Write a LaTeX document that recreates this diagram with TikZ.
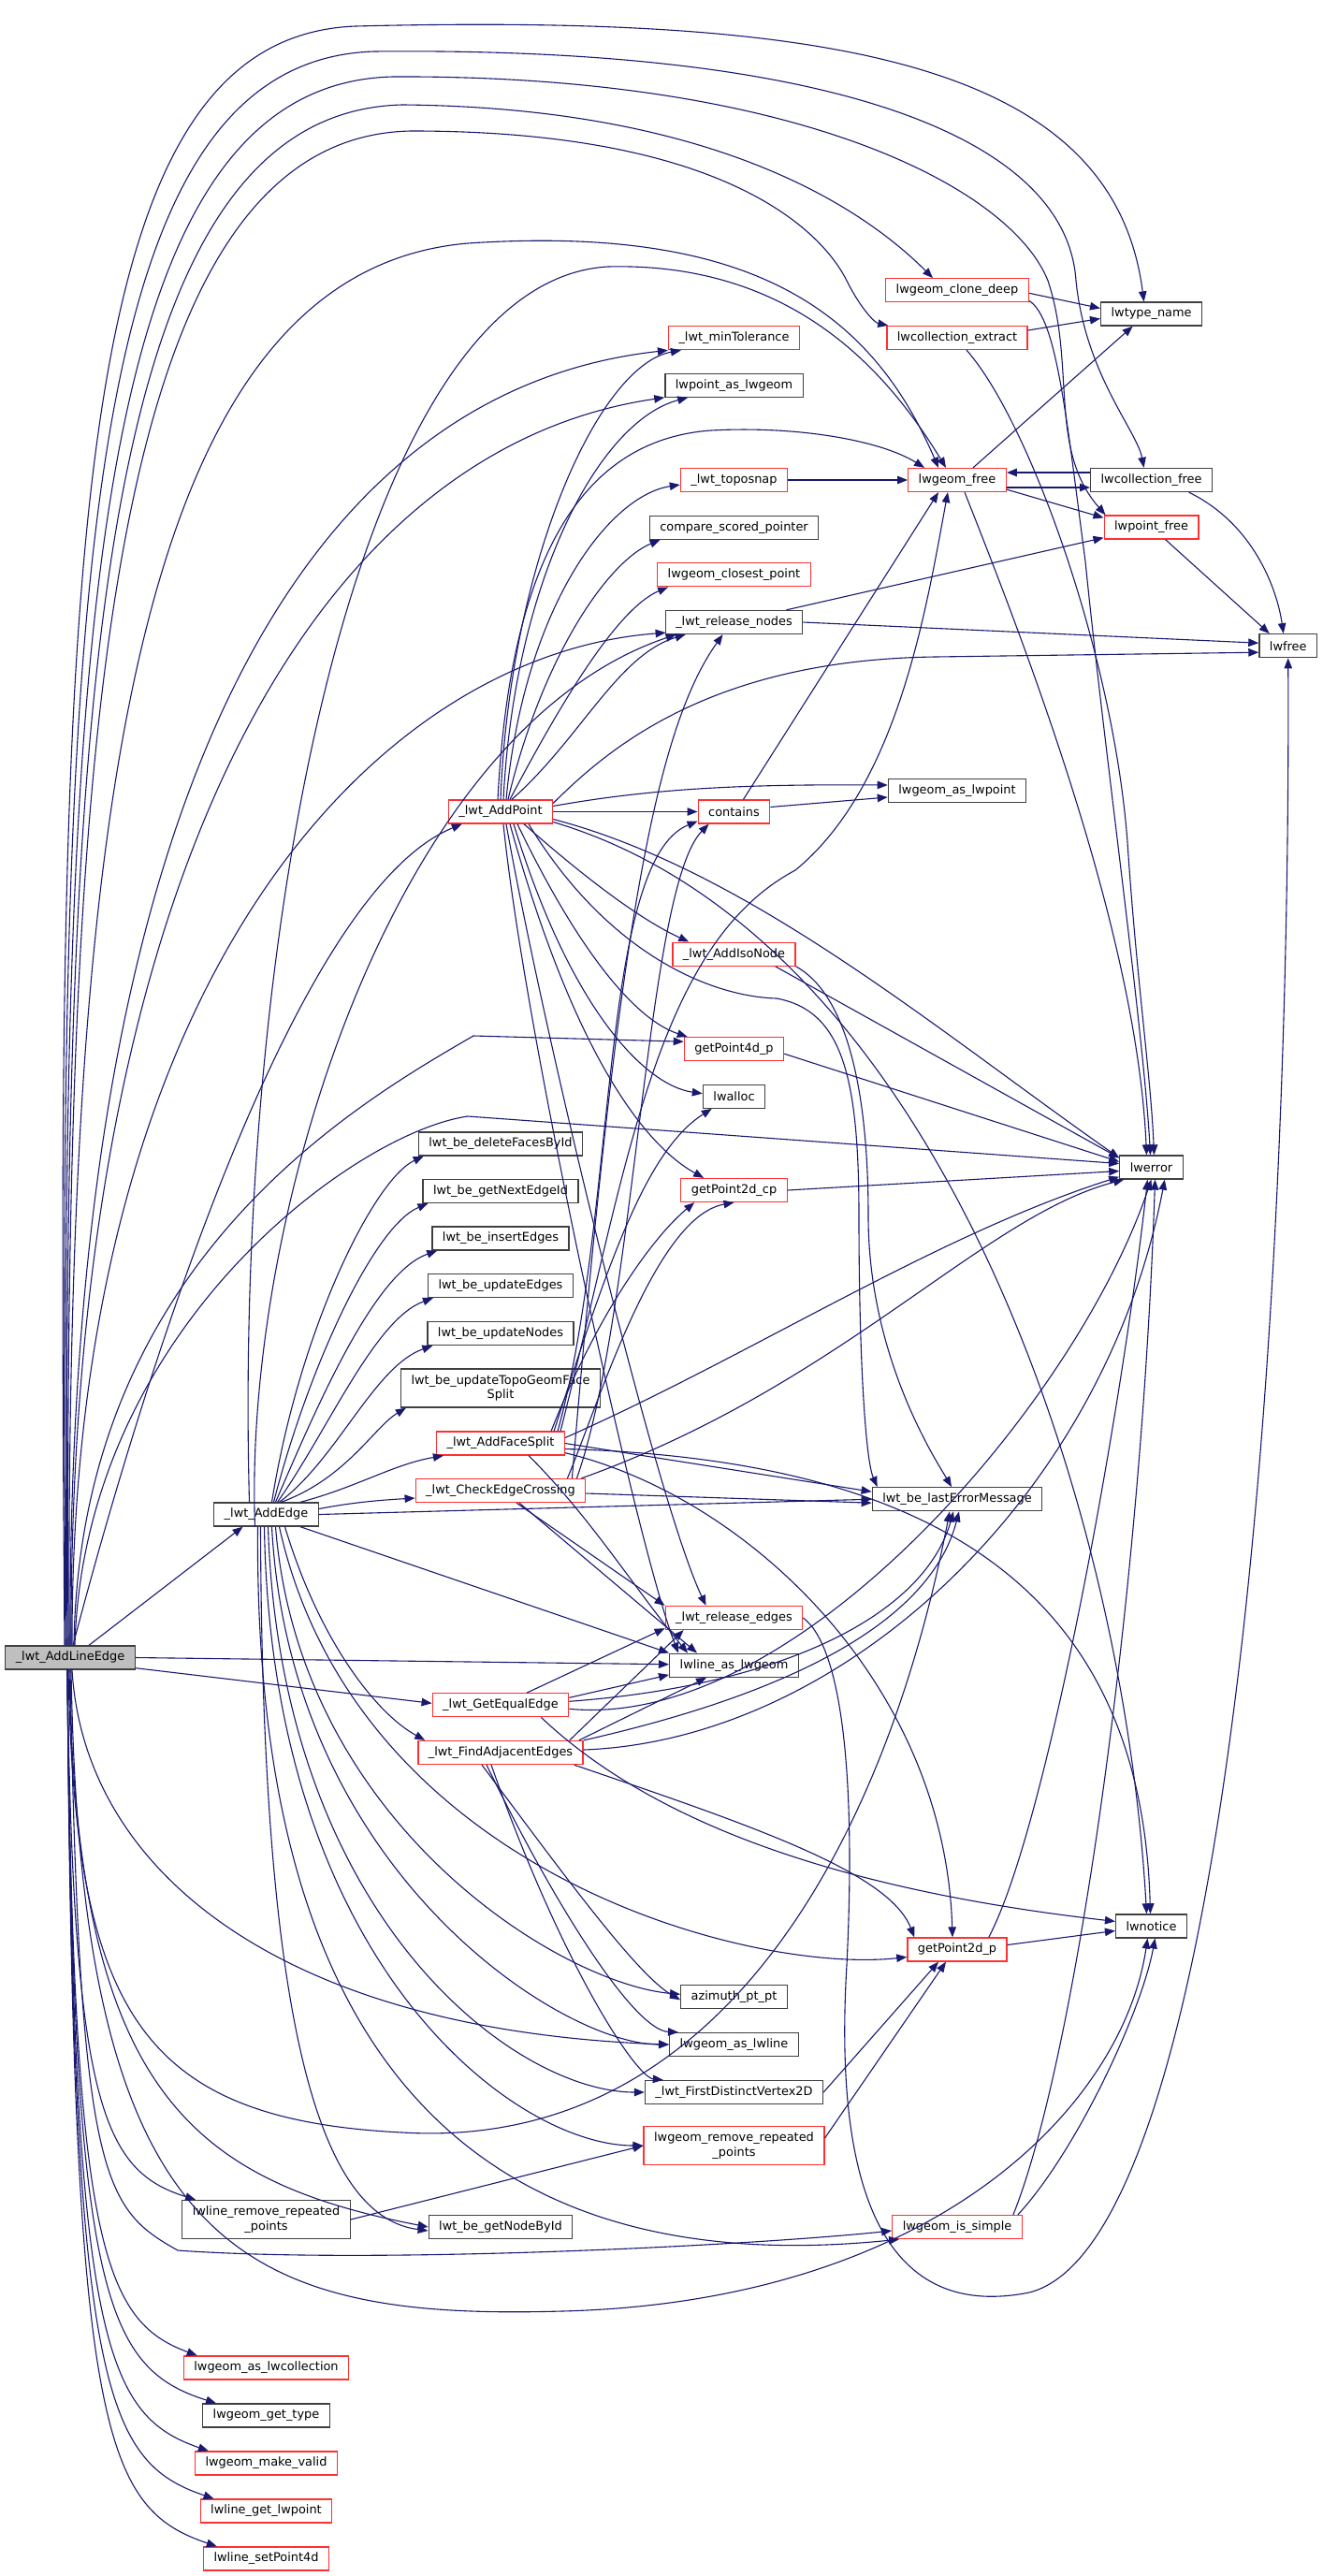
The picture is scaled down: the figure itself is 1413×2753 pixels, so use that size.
\documentclass[tikz,border=0pt]{standalone}
\usepackage{fontspec}
\setmainfont{DejaVu Sans}
\usetikzlibrary{arrows.meta,calc}
\definecolor{edgec}{HTML}{191970}
\definecolor{boxred}{HTML}{FF3030}
\definecolor{boxblk}{HTML}{404040}
\definecolor{gfill}{HTML}{BFBFBF}
\begin{document}
\begin{tikzpicture}[x=1pt,y=-1pt,
  nb/.style={draw=boxblk, line width=1.3pt, fill=white, minimum height=25pt, inner xsep=11pt, inner ysep=0pt, font=\fontsize{12.9}{15.5}\selectfont},
  rb/.style={nb, draw=boxred},
  two/.style={minimum height=41pt, align=center},
  e/.style={draw=edgec, line width=1.1pt, -{Triangle[length=11pt,width=8.5pt]}},
]
\useasboundingbox (0,0) rectangle (1413,2753);
\fill[white] (0,0) rectangle (1413,2753);
% ---------------- nodes
\node[nb, fill=gfill] (L) at (75,1771.5) {\_lwt\_AddLineEdge};
\node[nb] (E) at (284.5,1618.5) {\_lwt\_AddEdge};
\node[nb, two] (LRR) at (284.5,2372) {lwline\_remove\_repeated\\\_points};
\node[rb] (LAC) at (284.5,2530.5) {lwgeom\_as\_lwcollection};
\node[nb] (LGT) at (284.5,2581.5) {lwgeom\_get\_type};
\node[rb] (LMV) at (284.5,2632.5) {lwgeom\_make\_valid};
\node[rb] (LGP) at (284.5,2683.5) {lwline\_get\_lwpoint};
\node[rb] (LSP) at (284.5,2734.5) {lwline\_setPoint4d};
\node[rb] (AP) at (535,867.5) {\_lwt\_AddPoint};
\node[nb] (DFB) at (535,1222.5) {lwt\_be\_deleteFacesById};
\node[nb] (GNE) at (535,1273) {lwt\_be\_getNextEdgeId};
\node[nb] (IE) at (535,1323.5) {lwt\_be\_insertEdges};
\node[nb] (UE) at (535,1374) {lwt\_be\_updateEdges};
\node[nb] (UN) at (535,1425) {lwt\_be\_updateNodes};
\node[nb, two] (UTG) at (535,1483.5) {lwt\_be\_updateTopoGeomFace\\Split};
\node[rb] (AFS) at (535,1542.5) {\_lwt\_AddFaceSplit};
\node[rb] (CEC) at (535,1593) {\_lwt\_CheckEdgeCrossing};
\node[rb] (GEE) at (535,1822.3) {\_lwt\_GetEqualEdge};
\node[rb] (FAE) at (535,1873) {\_lwt\_FindAdjacentEdges};
\node[nb] (GNB) at (535,2380) {lwt\_be\_getNodeById};
\node[rb] (MT) at (784.5,361.2) {\_lwt\_minTolerance};
\node[nb] (PAG) at (784.5,411.7) {lwpoint\_as\_lwgeom};
\node[rb] (TS) at (784.5,513) {\_lwt\_toposnap};
\node[nb] (CSP) at (784.5,563.7) {compare\_scored\_pointer};
\node[rb] (LCP) at (784.5,614.3) {lwgeom\_closest\_point};
\node[nb] (RN) at (784.5,665) {\_lwt\_release\_nodes};
\node[rb] (CT) at (784.5,867.5) {contains};
\node[rb] (AIN) at (784.5,1019.7) {\_lwt\_AddIsoNode};
\node[rb] (G4) at (784.5,1121.2) {getPoint4d\_p};
\node[nb] (LA) at (784.5,1171.7) {lwalloc};
\node[rb] (G2C) at (784.5,1272) {getPoint2d\_cp};
\node[rb] (RE) at (784.5,1729) {\_lwt\_release\_edges};
\node[nb] (LAL) at (784.5,1779.7) {lwline\_as\_lwgeom};
\node[nb] (AZ) at (784.5,2134.3) {azimuth\_pt\_pt};
\node[nb] (GAL) at (784.5,2185) {lwgeom\_as\_lwline};
\node[nb] (FDV) at (784.5,2236) {\_lwt\_FirstDistinctVertex2D};
\node[rb, two] (GRR) at (784.5,2293) {lwgeom\_remove\_repeated\\\_points};
\node[rb] (CD) at (1023,310.3) {lwgeom\_clone\_deep};
\node[rb] (CE) at (1023,361) {lwcollection\_extract};
\node[rb] (GF) at (1023,513) {lwgeom\_free};
\node[nb] (GAP) at (1023,845) {lwgeom\_as\_lwpoint};
\node[nb] (LEM) at (1023,1602.2) {lwt\_be\_lastErrorMessage};
\node[rb] (G2P) at (1023,2083.5) {getPoint2d\_p};
\node[rb] (GIS) at (1023,2380) {lwgeom\_is\_simple};
\node[nb] (TN) at (1230.6,335.5) {lwtype\_name};
\node[nb] (CF) at (1230.6,513) {lwcollection\_free};
\node[rb] (PF) at (1230.6,563.5) {lwpoint\_free};
\node[nb] (ERR) at (1230.5,1247.5) {lwerror};
\node[nb] (NOT) at (1230.5,2058.4) {lwnotice};
\node[nb] (FREE) at (1376.7,690.2) {lwfree};
% ---------------- edges from _lwt_AddLineEdge
\draw[e] ($(L.north)+(20,0)$) -- ($(E.south)+(-25,0)$);
\draw[e] ($(L.north)+(3,0)$) .. controls (130,1560) and (300,960) .. ($(AP.south west)+(15,0)$);
\draw[e] ($(L.north)+(-6,0)$) .. controls (60,600) and (70,40) .. (380,28) .. controls (900,15) and (1190,70) .. ($(TN.north)+(-8,0)$);
\draw[e] ($(L.north)+(-5,0)$) .. controls (62,650) and (80,65) .. (400,55) .. controls (900,50) and (1140,150) .. (1150,300) .. controls (1160,400) and (1215,460) .. ($(CF.north)+(-8,0)$);
\draw[e] ($(L.north)+(-4,0)$) .. controls (64,700) and (90,90) .. (420,82) .. controls (850,80) and (1080,200) .. (1120,300) .. controls (1150,390) and (1120,480) .. ($(PF.north west)+(2,0)$);
\draw[e] ($(L.north)+(-3,0)$) .. controls (66,750) and (100,120) .. (430,112) .. controls (760,115) and (920,220) .. ($(CD.north)+(-26,0)$);
\draw[e] ($(L.north)+(-2,0)$) .. controls (68,800) and (110,145) .. (440,140) .. controls (780,140) and (880,250) .. (905,300) .. controls (920,330) and (935,345) .. ($(CE.north west)+(2,0)$);
\draw[e] ($(L.north)+(-1,0)$) .. controls (70,850) and (150,290) .. (500,260) .. controls (800,240) and (930,330) .. ($(GF.north)+(-20,0)$);
\draw[e] ($(L.north)+(0,0)$) .. controls (72,900) and (300,420) .. ($(MT.south west)+(0,0)$);
\draw[e] ($(L.north)+(1,0)$) .. controls (74,950) and (330,480) .. ($(PAG.south west)+(0,0)$);
\draw[e] ($(L.north)+(2,0)$) .. controls (76,1050) and (400,700) .. ($(RN.south west)+(1,-2)$);
\draw[e] ($(L.north)+(4,0)$) .. controls (85,1350) and (380,1180) .. (506,1107) -- ($(G4.west)+(0,-8)$);
\draw[e] ($(L.north)+(5,0)$) .. controls (90,1420) and (380,1210) .. (500,1193) -- ($(ERR.west)+(0,-4)$);
\draw[e] (L.east) -- ($(LAL.west)+(0,-1)$);
\draw[e] ($(L.south east)+(0,-2)$) -- ($(GEE.west)+(0,-2)$);
\draw[e] ($(L.south)+(-2,0)$) .. controls (80,2150) and (150,2265) .. (430,2279) .. controls (780,2300) and (950,1950) .. ($(LEM.south)+(-8,0)$);
\draw[e] ($(L.south)+(-1,0)$) .. controls (82,2230) and (200,2330) .. (GNB.west);
\draw[e] ($(L.south)+(0,0)$) .. controls (85,2330) and (110,2360) .. (190,2405) .. controls (400,2420) and (800,2400) .. ($(GIS.west)+(0,4)$);
\draw[e] ($(L.south)+(1,0)$) .. controls (86,2400) and (250,2480) .. (600,2470) .. controls (1000,2460) and (1200,2250) .. ($(NOT.south)+(-4,0)$);
\draw[e] ($(L.south)+(-3,0)$) .. controls (78,2250) and (110,2320) .. ($(LRR.north west)+(15,0)$);
\draw[e] ($(L.south)+(-3,0)$) .. controls (78,2400) and (110,2480) .. ($(LAC.north west)+(15,0)$);
\draw[e] ($(L.south)+(-3,0)$) .. controls (78,2450) and (110,2530) .. ($(LGT.north west)+(15,0)$);
\draw[e] ($(L.south)+(-3,0)$) .. controls (78,2500) and (110,2580) .. ($(LMV.north west)+(15,0)$);
\draw[e] ($(L.south)+(-3,0)$) .. controls (78,2550) and (110,2630) .. ($(LGP.north west)+(15,0)$);
\draw[e] ($(L.south)+(-3,0)$) .. controls (78,2600) and (110,2680) .. ($(LSP.north west)+(15,0)$);
\draw[e] ($(L.south)+(2,0)$) .. controls (90,2000) and (300,2170) .. (GAL.west);
% ---------------- edges from _lwt_AddEdge
\draw[e] ($(E.north)+(6,0)$) .. controls (320,1420) and (400,1260) .. ($(DFB.south west)+(6,0)$);
\draw[e] ($(E.north)+(8,0)$) .. controls (330,1460) and (400,1310) .. ($(GNE.south west)+(6,0)$);
\draw[e] ($(E.north)+(10,0)$) .. controls (340,1500) and (400,1360) .. ($(IE.south west)+(6,0)$);
\draw[e] ($(E.north)+(12,0)$) .. controls (350,1530) and (400,1410) .. ($(UE.south west)+(6,0)$);
\draw[e] ($(E.north)+(14,0)$) .. controls (360,1560) and (400,1460) .. ($(UN.south west)+(6,0)$);
\draw[e] ($(E.north)+(16,0)$) .. controls (370,1580) and (400,1525) .. ($(UTG.south west)+(6,0)$);
\draw[e] ($(E.north east)+(-20,0)$) .. controls (380,1590) and (420,1565) .. ($(AFS.south west)+(8,0)$);
\draw[e] ($(E.east)+(0,-6)$) .. controls (380,1605) and (410,1603) .. ($(CEC.west)+(0,8)$);
\draw[e] (E.east) -- (LEM.west);
\draw[e] ($(E.south east)+(-20,0)$) -- (LAL.north west);
\draw[e] ($(E.south)+(20,0)$) .. controls (340,1750) and (400,1830) .. ($(FAE.north west)+(8,0)$);
\draw[e] ($(E.south)+(-12,0)$) .. controls (260,1300) and (420,780) .. ($(RN.south west)+(12,0)$);
\draw[e] ($(E.north)+(-18,0)$) .. controls (250,1000) and (380,300) .. (650,285) .. controls (850,280) and (950,400) .. ($(GF.north)+(-12,0)$);
\draw[e] ($(E.south)+(10,0)$) .. controls (320,1950) and (600,2120) .. ($(AZ.west)+(0,-3)$);
\draw[e] ($(E.south)+(6,0)$) .. controls (310,2000) and (600,2185) .. (GAL.west);
\draw[e] ($(E.south)+(2,0)$) .. controls (300,2050) and (550,2236) .. (FDV.west);
\draw[e] ($(E.south)+(-2,0)$) .. controls (290,2100) and (550,2293) .. (GRR.west);
\draw[e] ($(E.south)+(14,0)$) .. controls (380,2000) and (800,2110) .. ($(G2P.west)+(0,8)$);
\draw[e] ($(E.south)+(-6,0)$) .. controls (280,2200) and (350,2370) .. ($(GNB.west)+(0,4)$);
\draw[e] ($(E.south)+(-9,0)$) .. controls (270,2300) and (600,2430) .. ($(GIS.south west)+(8,0)$);
% ---------------- edges from _lwt_AddPoint
\draw[e] ($(AP.north)+(0,0)$) .. controls (545,600) and (640,390) .. ($(MT.south west)+(14,0)$);
\draw[e] ($(AP.north)+(3,0)$) .. controls (550,620) and (640,450) .. ($(PAG.south west)+(25,0)$);
\draw[e] ($(AP.north)+(-3,0)$) .. controls (545,600) and (620,470) .. (760,460) .. controls (850,455) and (940,470) .. ($(GF.north west)+(18,0)$);
\draw[e] ($(AP.north)+(6,0)$) .. controls (560,650) and (650,530) .. ($(TS.west)+(0,5)$);
\draw[e] ($(AP.north)+(8,0)$) .. controls (580,700) and (650,600) .. ($(CSP.south west)+(12,0)$);
\draw[e] ($(AP.north)+(10,0)$) .. controls (600,750) and (660,650) .. ($(LCP.south west)+(12,0)$);
\draw[e] ($(AP.north)+(12,0)$) .. controls (620,790) and (660,700) .. ($(RN.south west)+(22,0)$);
\draw[e] (AP.east) -- (CT.west);
\draw[e] ($(AP.east)+(0,-6)$) .. controls (700,842) and (800,838) .. ($(GAP.west)+(0,-6)$);
\draw[e] ($(AP.east)+(0,-9)$) .. controls (650,800) and (760,705) .. (1000,702) -- ($(FREE.west)+(0,7)$);
\draw[e] ($(AP.east)+(0,8)$) .. controls (800,930) and (1000,1100) .. ($(ERR.north west)+(0,3)$);
\draw[e] ($(AP.east)+(0,11)$) .. controls (1000,1000) and (1200,1600) .. ($(NOT.north)+(-5,0)$);
\draw[e] ($(AP.south)+(25,0)$) .. controls (650,960) and (700,990) .. ($(AIN.north west)+(18,0)$);
\draw[e] ($(AP.south)+(18,0)$) .. controls (620,1020) and (680,1090) .. ($(G4.north west)+(4,0)$);
\draw[e] ($(AP.south)+(14,0)$) .. controls (610,1080) and (690,1160) .. ($(LA.west)+(0,-3)$);
\draw[e] ($(AP.south)+(10,0)$) .. controls (620,1150) and (700,1230) .. ($(G2C.north west)+(25,0)$);
\draw[e] ($(AP.south)+(6,0)$) .. controls (580,1100) and (700,1600) .. ($(RE.north)+(-30,0)$);
\draw[e] ($(AP.south)+(3,0)$) .. controls (560,1100) and (680,1650) .. ($(LAL.north west)+(10,0)$);
\draw[e] ($(AP.south)+(30,0)$) .. controls (650,1020) and (760,1065) .. (830,1067) .. controls (900,1080) and (918,1150) .. (918,1300) .. controls (918,1450) and (925,1560) .. ($(LEM.north west)+(6,0)$);
% ---------------- edges from rank-3 / rank-4 nodes
\draw[e] (AIN.south east) .. controls (900,1060) and (928,1150) .. (928,1300) .. controls (928,1450) and (1000,1560) .. ($(LEM.north)+(-6,0)$);
\draw[e] ($(AIN.south east)+(-22,0)$) -- ($(ERR.west)+(0,-10)$);
\draw[e] ($(G4.east)+(0,5)$) -- ($(ERR.west)+(0,-6)$);
\draw[e] (G2C.east) -- ($(ERR.west)+(0,4)$);
\draw[e] (TS.east) -- (GF.west);
\draw[e] ($(CT.north)+(10,0)$) -- ($(GF.south)+(-20,0)$);
\draw[e] ($(CT.east)+(0,-5)$) -- ($(GAP.west)+(0,7)$);
\draw[e] ($(RN.north east)+(-18,0)$) -- ($(PF.south west)+(0,-2)$);
\draw[e] (RN.east) -- ($(FREE.west)+(0,-3)$);
\draw[e] ($(GF.north)+(17,0)$) -- ($(TN.south)+(-20,0)$);
\draw[e] ($(CF.west)+(0,-8)$) -- ($(GF.east)+(0,-8)$);
\draw[e] ($(GF.east)+(0,8)$) -- ($(CF.west)+(0,8)$);
\draw[e] ($(GF.south east)+(0,-3)$) -- ($(PF.north west)+(0,3)$);
\draw[e] ($(GF.south)+(8,0)$) .. controls (1100,700) and (1215,1000) .. ($(ERR.north)+(-5,0)$);
\draw[e] ($(CF.south)+(40,0)$) .. controls (1340,560) and (1365,630) .. ($(FREE.north)+(-5,0)$);
\draw[e] ($(PF.south)+(15,0)$) -- ($(FREE.north)+(-20,0)$);
\draw[e] ($(CD.east)+(0,3)$) -- ($(TN.west)+(0,-6)$);
\draw[e] ($(CE.east)+(0,-8)$) -- ($(TN.west)+(0,5)$);
\draw[e] ($(CD.south east)+(0,-2)$) .. controls (1130,340) and (1140,450) .. (1160,600) .. controls (1180,800) and (1222,1100) .. ($(ERR.north)+(-1,0)$);
\draw[e] ($(CE.south)+(10,0)$) .. controls (1100,450) and (1190,700) .. (1205,900) .. controls (1215,1050) and (1230,1150) .. ($(ERR.north)+(3,0)$);
\draw[e] (RE.east) .. controls (900,1760) and (915,1900) .. (905,2100) .. controls (890,2350) and (950,2480) .. (1100,2450) .. controls (1300,2400) and (1380,1500) .. (FREE.south);
\draw[e] (LRR.east) -- (GRR.west);
\draw[e] (FDV.east) -- ($(G2P.south)+(-20,0)$);
\draw[e] ($(GRR.east)+(0,-8)$) -- ($(G2P.south)+(-12,0)$);
\draw[e] ($(G2P.north east)+(-20,0)$) .. controls (1120,1950) and (1200,1500) .. ($(ERR.south)+(-4,0)$);
\draw[e] ($(G2P.east)+(0,-5)$) -- ($(NOT.west)+(0,5)$);
\draw[e] ($(GIS.north east)+(-10,0)$) .. controls (1150,2200) and (1220,1700) .. ($(ERR.south)+(4,0)$);
\draw[e] ($(GIS.north east)+(-5,0)$) .. controls (1150,2300) and (1220,2150) .. ($(NOT.south)+(4,0)$);
% ---------------- edges from column-2 red nodes
\draw[e] ($(AFS.north east)+(-15,0)$) .. controls (640,1400) and (700,1320) .. ($(G2C.south west)+(15,0)$);
\draw[e] ($(AFS.north east)+(-12,0)$) .. controls (650,1350) and (690,1230) .. ($(LA.south west)+(10,0)$);
\draw[e] ($(AFS.north east)+(-8,0)$) .. controls (660,1300) and (640,920) .. ($(CT.south west)+(0,-3)$);
\draw[e] ($(AFS.north east)+(-5,0)$) .. controls (670,1250) and (700,1010) .. (850,930) .. controls (960,840) and (990,650) .. ($(GF.south)+(-10,0)$);
\draw[e] (AFS.east) -- ($(LEM.west)+(0,-8)$);
\draw[e] ($(AFS.east)+(0,6)$) .. controls (1000,1560) and (1220,1700) .. ($(NOT.north)+(-1,0)$);
\draw[e] ($(AFS.south east)+(0,-3)$) .. controls (800,1600) and (1010,1800) .. ($(G2P.north)+(-5,0)$);
\draw[e] ($(AFS.east)+(0,-6)$) .. controls (800,1450) and (1000,1320) .. ($(ERR.south west)+(0,-3)$);
\draw[e] ($(AFS.south)+(30,0)$) .. controls (630,1620) and (680,1700) .. ($(LAL.north west)+(20,0)$);
\draw[e] ($(CEC.north east)+(-20,0)$) .. controls (640,1500) and (700,1300) .. ($(G2C.south)+(0,0)$);
\draw[e] ($(CEC.north east)+(-15,0)$) .. controls (660,1000) and (700,780) .. ($(RN.south)+(-12,0)$);
\draw[e] ($(CEC.north east)+(-10,0)$) .. controls (680,1400) and (690,950) .. ($(CT.south west)+(12,0)$);
\draw[e] ($(CEC.north east)+(-5,0)$) .. controls (900,1480) and (1050,1300) .. ($(ERR.south west)+(5,0)$);
\draw[e] ($(CEC.east)+(0,3)$) -- ($(LEM.west)+(0,4)$);
\draw[e] ($(CEC.south)+(17,0)$) -- (RE.north west);
\draw[e] ($(CEC.south)+(20,0)$) -- ($(LAL.north west)+(30,0)$);
\draw[e] ($(GEE.north)+(28,0)$) -- ($(RE.south west)+(0,-2)$);
\draw[e] ($(GEE.east)+(0,-8)$) -- ($(LAL.south west)+(0,-3)$);
\draw[e] ($(GEE.east)+(0,-4)$) .. controls (850,1800) and (990,1720) .. ($(LEM.south)+(-4,0)$);
\draw[e] ($(GEE.east)+(0,4)$) .. controls (850,1850) and (1150,1500) .. ($(ERR.south)+(0,0)$);
\draw[e] ($(GEE.south east)+(-30,0)$) .. controls (700,1950) and (900,2020) .. ($(NOT.west)+(0,-5)$);
\draw[e] ($(FAE.north east)+(-15,0)$) -- ($(RE.south west)+(20,0)$);
\draw[e] ($(FAE.north east)+(-5,0)$) -- ($(LAL.south west)+(40,0)$);
\draw[e] ($(FAE.north east)$) .. controls (800,1820) and (990,1750) .. ($(LEM.south)+(2,0)$);
\draw[e] ($(FAE.east)+(0,-3)$) .. controls (900,1860) and (1180,1600) .. ($(ERR.south east)+(-20,0)$);
\draw[e] ($(FAE.south)+(-20,0)$) .. controls (600,2000) and (680,2110) .. ($(AZ.west)+(0,3)$);
\draw[e] ($(FAE.south)+(-15,0)$) .. controls (600,2050) and (680,2170) .. ($(GAL.north west)+(10,0)$);
\draw[e] ($(FAE.south)+(-10,0)$) .. controls (600,2100) and (680,2220) .. ($(FDV.north west)+(20,0)$);
\draw[e] ($(FAE.south east)+(-10,0)$) .. controls (800,1950) and (950,2000) .. ($(G2P.north west)+(8,0)$);
\end{tikzpicture}
\end{document}
